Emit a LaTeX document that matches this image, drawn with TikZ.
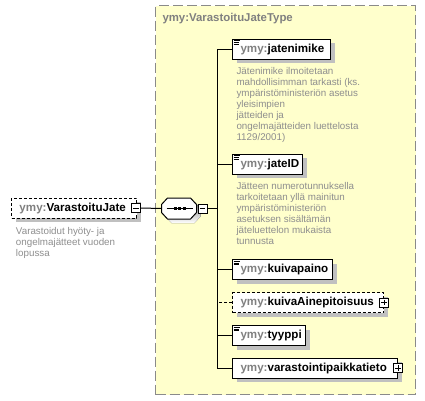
\documentclass[tikz,border=0pt]{standalone}
\usepackage{fontspec}
\setmainfont{Liberation Sans}
\usetikzlibrary{shadows}
\definecolor{bgyellow}{HTML}{FFFFCC}
\definecolor{pfx}{HTML}{808080}
\definecolor{desc}{HTML}{8E8E8E}
\definecolor{shade}{HTML}{C0C0C0}
\definecolor{frame}{HTML}{8A8A8A}
\newcommand{\el}[1]{{\color{pfx}ymy:}#1}
\begin{document}
\begin{tikzpicture}[x=1pt,y=-1pt,line width=1pt,
  shd/.style={drop shadow={shadow xshift=4pt,shadow yshift=-4pt,fill=shade,opacity=1}},
  elem/.style={draw=black,fill=white,shd,minimum height=20pt,inner xsep=8pt,inner ysep=0pt,
    anchor=west,align=left,font=\fontsize{11.6}{13}\selectfont\bfseries},
  optelem/.style={elem,dash pattern=on 3pt off 2pt},
  sgn/.style={draw=black,fill=white,minimum size=9pt,inner sep=0pt,line width=0.8pt},
  desctext/.style={anchor=north west,inner sep=0pt,align=left,text=desc,
    font=\fontsize{9.8}{11}\selectfont},
  typebox/.style={draw=frame,fill=bgyellow,dash pattern=on 10pt off 4pt,line width=1.2pt,
    anchor=north west,minimum width=260pt,minimum height=389pt,inner sep=0pt},
  seqbox/.style={minimum width=35pt,minimum height=21pt,inner sep=0pt},
  dot/.style={fill=black,minimum size=3pt,inner sep=0pt}]
\useasboundingbox (0,0) rectangle (425,400);
% type container
\node[typebox] (tbox) at (155,5) {};
\node[anchor=west,inner sep=0pt,text=pfx,font=\fontsize{11.4}{13}\selectfont\bfseries] (title) at (162,19) {ymy:VarastoituJateType};
% root element
\node[optelem,text width=109pt] (root) at (11,208) {\el{VarastoituJate}};
\node[sgn] (m0) at (136,208) {};
\draw[line width=0.8pt] ([xshift=2pt]m0.west) -- ([xshift=-2pt]m0.east);
\node[desctext] (d0) at (15.5,226.5) {Varastoidut hyöty- ja\\ongelmajätteet vuoden\\lopussa};
% sequence compositor
\node[seqbox] (seq) at (179.5,208.5) {};
\fill[shade] ([shift={(4,4)}]seq.west) ++(0,-4) -- ++(6,-6.5) -- ++(23,0) -- ++(6,6.5) -- ++(0,8) -- ++(-6,6.5) -- ++(-23,0) -- ++(-6,-6.5) -- cycle;
\draw[fill=white] (seq.west) ++(0,-4) -- ++(6,-6.5) -- ++(23,0) -- ++(6,6.5) -- ++(0,8) -- ++(-6,6.5) -- ++(-23,0) -- ++(-6,-6.5) -- cycle;
\draw[line width=0.8pt] ([xshift=5pt]seq.west) -- ([xshift=-5pt]seq.east);
\node[dot] (s1) at (175,208.5) {};
\node[dot] (s2) at (179.5,208.5) {};
\node[dot] (s3) at (184,208.5) {};
\node[sgn,anchor=west] (m1) at (seq.east) {};
\draw[line width=0.8pt] ([xshift=2pt]m1.west) -- ([xshift=-2pt]m1.east);
\draw (m0.east) -- (seq.west);
% children
\node[elem,text width=82pt] (e1) at (232,49) {\el{jatenimike}};
\node[elem,text width=54pt] (e2) at (232,164) {\el{jateID}};
\node[elem,text width=84pt] (e3) at (232,269.5) {\el{kuivapaino}};
\node[optelem,text width=135pt] (e4) at (232,302.5) {\el{kuivaAinepitoisuus}};
\node[elem,text width=57pt] (e5) at (232,335.5) {\el{tyyppi}};
\node[elem,text width=149pt] (e6) at (232,368) {\el{varastointipaikkatieto}};
\node[sgn] (p4) at (e4.east) {};
\draw[line width=0.8pt] ([xshift=2pt]p4.west) -- ([xshift=-2pt]p4.east) (p4.north) ++(0,2) -- ([yshift=2pt]p4.south);
\node[sgn] (p6) at (e6.east) {};
\draw[line width=0.8pt] ([xshift=2pt]p6.west) -- ([xshift=-2pt]p6.east) (p6.north) ++(0,2) -- ([yshift=2pt]p6.south);
% simple-content icons
\foreach \n in {e1,e2,e3,e5}{
  \draw[line width=0.6pt] (\n.north west) ++(1.5,2) -- ++(6,0) ++(-6,1.8) -- ++(5,0) ++(-5,1.8) -- ++(5,0);
}
% descriptions
\node[desctext] (d1) at (236,66.5) {Jätenimike ilmoitetaan\\mahdollisimman tarkasti (ks.\\ympäristöministeriön asetus\\yleisimpien\\jätteiden ja\\ongelmajätteiden luettelosta\\1129/2001)};
\node[desctext] (d2) at (236,181.5) {Jätteen numerotunnuksella\\tarkoitetaan yllä mainitun\\ympäristöministeriön\\asetuksen sisältämän\\jäteluettelon mukaista\\tunnusta};
% connectors
\coordinate (j) at (217,208.5);
\draw (m1.east) -- (j);
\draw (e1.west) -- ++(-15,0) |- (e6.west);
\draw (e2.west) -- ++(-15,0);
\draw (e3.west) -- ++(-15,0);
\draw[dash pattern=on 3pt off 2pt] (e4.west) -- ++(-15,0);
\draw (e5.west) -- ++(-15,0);
\end{tikzpicture}
\end{document}
